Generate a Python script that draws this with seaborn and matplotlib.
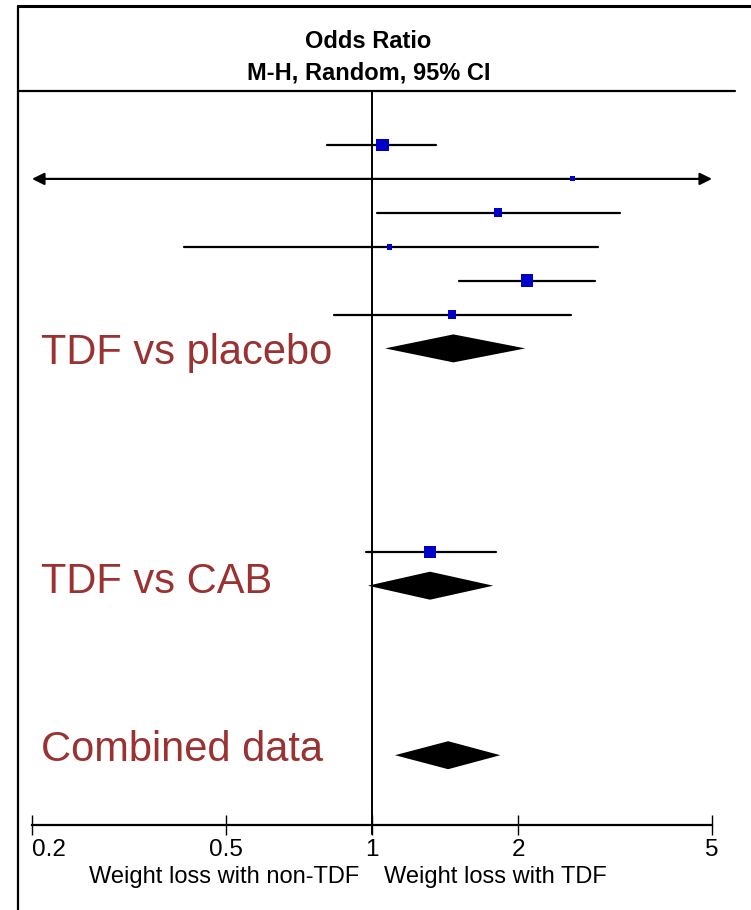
# forest plot: TDF weight loss odds ratios (M-H, random, 95% CI)

import numpy as np
import pandas as pd
import seaborn as sns
import matplotlib.pyplot as plt
from matplotlib.lines import Line2D
from matplotlib.transforms import blended_transform_factory

# individual studies, TDF vs placebo
placebo_or = [1.05, 2.58, 1.815, 1.087, 2.08, 1.46]
placebo_lo = [0.81, 0.02, 1.026, 0.41, 1.51, 0.835]
placebo_hi = [1.355, 300.0, 3.24, 2.91, 2.87, 2.565]
placebo_wt = [30.1, 5.2, 15.0, 6.3, 30.1, 13.4]

# TDF vs CAB study
cab_or = [1.316]
cab_lo = [0.972]
cab_hi = [1.798]
cab_wt = [27.6]

# pooled estimates (diamonds)
pooled_names = ["TDF vs placebo", "TDF vs CAB", "Combined data"]
pooled_or = [1.47, 1.316, 1.434]
pooled_lo = [1.064, 0.981, 1.115]
pooled_hi = [2.066, 1.775, 1.835]

tick_vals = [0.2, 0.5, 1, 2, 5]
tick_text = ["0.2", "0.5", "1", "2", "5"]
left_label = "Weight loss with non-TDF"
right_label = "Weight loss with TDF"

# layout: rows in units of one study line
study_rows = [0, 1, 2, 3, 4, 5, 12]
pooled_rows = [6, 13, 18]
axis_row = 20.05
W, H = 751, 910
ROW0, ROWH = 145, 33.9


def px2row(py):
    return (py - ROW0) / ROWH


sns.set_style("white")
plt.rcParams["font.family"] = ["Liberation Sans", "DejaVu Sans"]
plt.rcParams["text.color"] = "black"

fig = plt.figure(figsize=(W / 100, H / 100), dpi=100)
ax = fig.add_axes([32 / W, 0, 680 / W, 1])
ax.set_xscale("log")

studies = pd.DataFrame({
    "or": placebo_or + cab_or,
    "lo": placebo_lo + cab_lo,
    "hi": placebo_hi + cab_hi,
    "weight": placebo_wt + cab_wt,
    "row": study_rows,
})

xmin, xmax = tick_vals[0], tick_vals[-1]

# confidence interval lines (arrows where they run off the scale)
for _, r in studies.iterrows():
    lo, hi = max(r["lo"], xmin), min(r["hi"], xmax)
    if r["lo"] < xmin or r["hi"] > xmax:
        style = ("<|-" if r["lo"] < xmin else "-") + ("|>" if r["hi"] > xmax else "")
        ax.annotate("", xy=(hi, r["row"]), xytext=(lo, r["row"]),
                    arrowprops=dict(arrowstyle=style, color="black", lw=1.6,
                                    mutation_scale=18, shrinkA=0, shrinkB=0),
                    annotation_clip=False)
    else:
        ax.plot([lo, hi], [r["row"], r["row"]], color="black", lw=1.6, zorder=2)

sns.scatterplot(data=studies, x="or", y="row", size="weight",
                sizes=(0, 80), size_norm=(0, max(placebo_wt)),
                marker="s", color="#0000c8", linewidth=0, legend=False,
                zorder=3, ax=ax)

# pooled diamonds
half_h = 14 / ROWH
for o, lo, hi, row in zip(pooled_or, pooled_lo, pooled_hi, pooled_rows):
    ax.fill([lo, o, hi, o], [row, row - half_h, row, row + half_h],
            color="black", lw=0, zorder=3)

# group labels
lab_tr = blended_transform_factory(fig.transFigure, ax.transData)
label_y = [px2row(364), px2row(593), px2row(761)]
for name, yy in zip(pooled_names, label_y):
    ax.text(41 / W, yy, name, transform=lab_tr, ha="left", va="baseline",
            fontsize=30, color="#9a3232")

# line of no effect
ax.plot([1, 1], [px2row(91), px2row(834)], color="black", lw=1.4, zorder=1)

ax.set_xlim(xmin, xmax)
ax.set_ylim(px2row(H), px2row(0))
ax.set_xlabel("")
ax.set_ylabel("")
ax.set_yticks([])
for s in ["top", "left", "right"]:
    ax.spines[s].set_visible(False)
ax.spines["bottom"].set_position(("data", axis_row))
ax.spines["bottom"].set_linewidth(1.6)
ax.spines["bottom"].set_color("black")
ax.set_xticks(tick_vals)
ax.set_xticklabels(tick_text)
ax.minorticks_off()
ax.tick_params(axis="x", bottom=True, direction="inout", length=14, width=1.0,
               pad=3, labelsize=17.5, colors="black")
tl = ax.get_xticklabels()
tl[0].set_ha("left")

# direction labels under the axis
ax.annotate(left_label, xy=(1, px2row(877)), xytext=(-9, 0),
            textcoords="offset points", ha="right", va="center", fontsize=17,
            color="black", annotation_clip=False)
ax.annotate(right_label, xy=(1, px2row(877)), xytext=(9, 0),
            textcoords="offset points", ha="left", va="center", fontsize=17,
            color="black", annotation_clip=False)

# header and frame
fig.text(368 / W, 1 - 42 / H, "Odds Ratio", ha="center", va="center",
         fontsize=17, fontweight="bold", color="black")
fig.text(369 / W, 1 - 73 / H, "M-H, Random, 95% CI", ha="center", va="center",
         fontsize=17, fontweight="bold", color="black")
fig.add_artist(Line2D([18 / W, 18 / W], [0, 1 - 6 / H], color="black", lw=1.6))
fig.add_artist(Line2D([18 / W, 1], [1 - 6 / H, 1 - 6 / H], color="black", lw=2.2))
fig.add_artist(Line2D([18 / W, 735 / W], [1 - 91 / H, 1 - 91 / H], color="black", lw=1.6))

fig.savefig("out.png", dpi=100)
